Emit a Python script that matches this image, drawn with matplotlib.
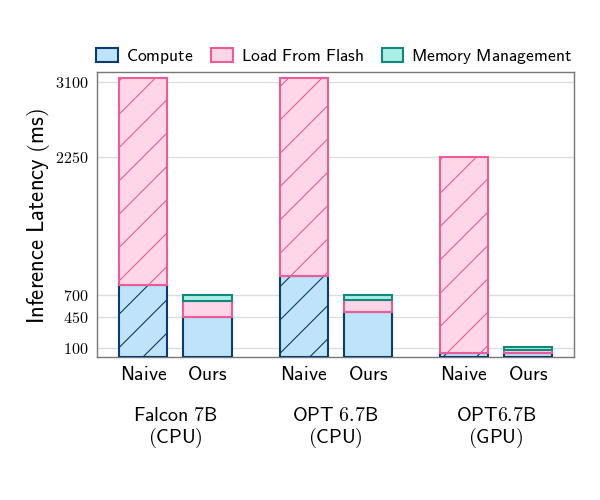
import matplotlib
matplotlib.use("Agg")
import matplotlib.pyplot as plt
from matplotlib.patches import Patch
import numpy as np

# data (ms)
models = ["Falcon 7B\n(CPU)", "OPT 6.7B\n(CPU)", "OPT6.7B\n(GPU)"]
methods = ["Naive", "Ours"]
compute = [810, 450, 910, 510, 40, 50]
flash = [2330, 180, 2230, 130, 2210, 30]
memory = [0, 70, 0, 60, 0, 30]
yticks = [100, 450, 700, 2250, 3100]

plt.rcParams['mathtext.fontset'] = 'cm'
plt.rcParams['hatch.linewidth'] = 0.4


def sf(s):
    # computer modern sans through mathtext
    return r'$\mathsf{' + s.replace(' ', r'\ ') + '}$'


colors = {
    "compute": ("#BEE3FA", "#0D3B6B"),
    "flash": ("#FFD6E7", "#EE5C98"),
    "memory": ("#A9EEE7", "#14877D"),
}

fig, ax = plt.subplots(figsize=(3, 2.5), dpi=200)
fig.subplots_adjust(left=0.162, right=0.957, top=0.856, bottom=0.286)

pos = []
for g in range(len(models)):
    for m in range(len(methods)):
        pos.append(g * 2.5 + m)
pos = np.array(pos)
hatches = ['//' if i % 2 == 0 else '' for i in range(len(pos))]

compute = np.array(compute)
flash = np.array(flash)
memory = np.array(memory)

w = 0.75
lw = 0.75
ax.bar(pos, compute, w, color=colors["compute"][0], edgecolor=colors["compute"][1],
       linewidth=lw, hatch=hatches, zorder=3)
ax.bar(pos, flash, w, bottom=compute, color=colors["flash"][0], edgecolor=colors["flash"][1],
       linewidth=lw, hatch=hatches, zorder=3)
mask = memory > 0
ax.bar(pos[mask], memory[mask], w, bottom=(compute + flash)[mask], color=colors["memory"][0],
       edgecolor=colors["memory"][1], linewidth=lw, zorder=3)

ax.set_xlim(-0.72, 6.72)
ax.set_ylim(0, 3213)
ax.set_yticks(yticks)
ax.set_yticklabels([r'$%d$' % t for t in yticks], fontsize=5.8)
ax.set_xticks(pos)
ax.set_xticklabels([sf(methods[i % 2]) for i in range(len(pos))], fontsize=7.1)
ax.tick_params(length=0, pad=3)
ax.grid(axis='y', color='#dddddd', linewidth=0.5, zorder=0)
for s in ax.spines.values():
    s.set_color('#777777')
    s.set_linewidth(0.5)

ax.set_ylabel(sf("Inference Latency (ms)"), fontsize=8.2)
ax.yaxis.set_label_coords(-0.095, 0.495)

for g, name in enumerate(models):
    cx = g * 2.5 + 0.5
    lines = name.split("\n")
    ax.text(cx, -0.205, sf(lines[0]), transform=ax.get_xaxis_transform(),
            ha='center', va='center', fontsize=7.2)
    ax.text(cx, -0.285, sf(lines[1]), transform=ax.get_xaxis_transform(),
            ha='center', va='center', fontsize=7.2)

handles = [Patch(facecolor=colors[k][0], edgecolor=colors[k][1], linewidth=lw)
           for k in ["compute", "flash", "memory"]]
labels = [sf("Compute"), sf("Load From Flash"), sf("Memory Management")]
ax.legend(handles, labels, loc='lower left', bbox_to_anchor=(-0.009, 1.008), ncol=3, frameon=False,
          fontsize=6.3, handlelength=1.24, handleheight=0.8, columnspacing=1.0,
          handletextpad=0.46, borderaxespad=0.2, borderpad=0.0)

plt.savefig("out.png", dpi=200)
